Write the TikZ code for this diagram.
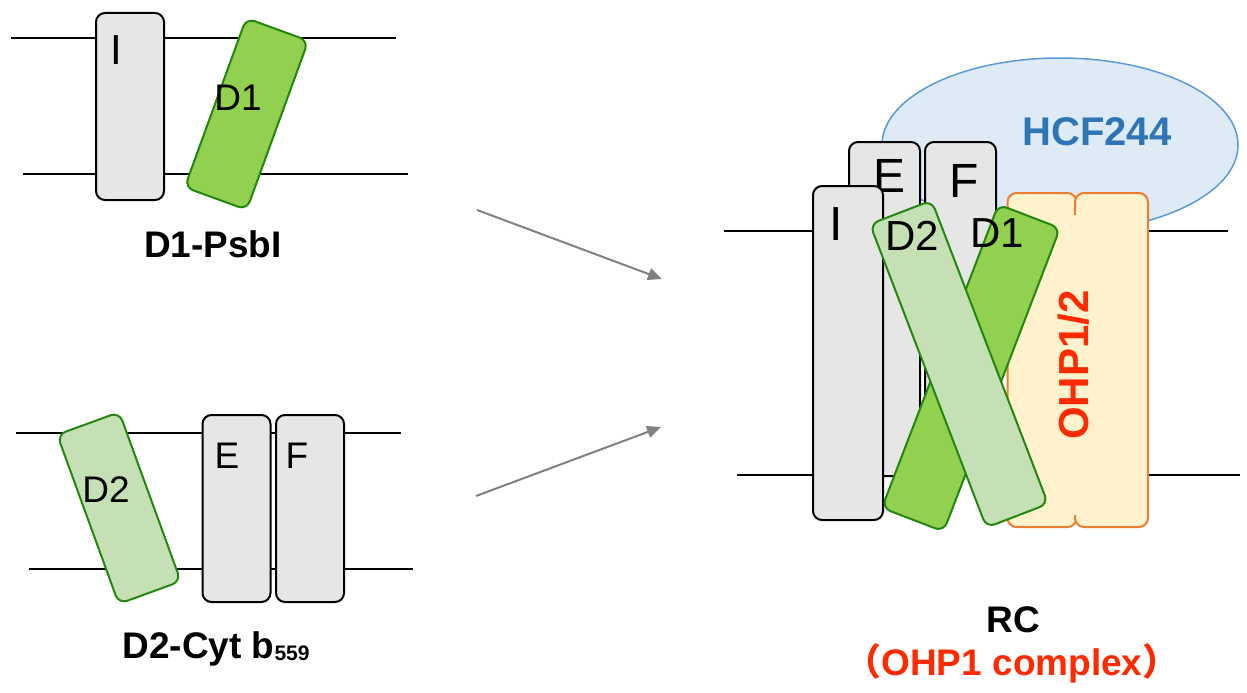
\documentclass[tikz,border=0pt]{standalone}
\usepackage{fontspec}
\setmainfont{Liberation Sans}
\newfontfamily\cjk{Noto Sans CJK SC}
\usetikzlibrary{arrows.meta,shapes.geometric}

\definecolor{boxgray}{HTML}{E6E6E6}
\definecolor{donefill}{HTML}{92D050}
\definecolor{dtwofill}{HTML}{C5E0B4}
\definecolor{dborder}{HTML}{23870F}
\definecolor{ohpfill}{HTML}{FFF2CC}
\definecolor{ohpborder}{HTML}{ED7D31}
\definecolor{hcffill}{HTML}{DEEBF7}
\definecolor{hcfborder}{HTML}{5B9BD5}
\definecolor{hcftext}{HTML}{2E75B6}
\definecolor{redtext}{HTML}{FF2A00}
\definecolor{arrowgray}{HTML}{808080}

\tikzset{
  membrane/.style={line width=1.2pt},
  subunit/.style={draw=black,fill=boxgray,line width=2pt,rounded corners=9pt,
    minimum width=68pt,minimum height=187pt,inner sep=0pt},
  dbox/.style={draw=dborder,line width=2pt,rounded corners=9pt,
    minimum width=66pt,minimum height=180pt,inner sep=0pt},
  ohpbox/.style={draw=ohpborder,fill=ohpfill,line width=2pt,rounded corners=9pt,
    minimum width=69pt,minimum height=334pt,inner sep=0pt},
  letter/.style={font=\fontsize{37}{40}\selectfont,inner sep=0pt,anchor=base},
  bigletter/.style={font=\fontsize{48}{50}\selectfont,inner sep=0pt,anchor=base},
  title/.style={font=\fontsize{37}{40}\selectfont\bfseries,inner sep=0pt,anchor=base},
  step arrow/.style={->,draw=arrowgray,line width=2pt}
}

\begin{document}
\begin{tikzpicture}[x=1pt,y=-1pt,>={Triangle[length=14pt,width=12pt]}]
\useasboundingbox (0,0) rectangle (1247,693);

% membranes
\draw[membrane] (11,38) -- (396,38);
\draw[membrane] (23,174) -- (408,174);
\draw[membrane] (16,433) -- (401,433);
\draw[membrane] (29,569) -- (413,569);
\draw[membrane] (724,231) -- (1228,231);
\draw[membrane] (737,475) -- (1240,475);

% D1-PsbI
\node[subunit] (Ia) at (130,106.5) {};
\node[dbox,fill=donefill,rotate=-20] (Done) at (246.5,114) {};
\node[letter,font=\fontsize{42}{44}\selectfont] (Ialab) at (116,65) {I};
\node[letter] (Donelab) at (238,110) {D1};
\node[title] (psbi) at (213,257) {D1-PsbI};

% D2-Cyt b559
\node[dbox,fill=dtwofill,rotate=20] (Dtwo) at (119,508) {};
\node[subunit] (Ea) at (236.5,508.5) {};
\node[subunit] (Fa) at (310,508.5) {};
\node[letter] (Dtwolab) at (106,502) {D2};
\node[letter] (Ealab) at (227,468) {E};
\node[letter] (Falab) at (297,468) {F};
\node[title] (cytb) at (216,658) {D2-Cyt b\raisebox{-2pt}{\fontsize{21}{22}\selectfont 559}};

% arrows
\coordinate (upstart) at (477,210);
\coordinate (upend) at (662,279);
\coordinate (lowstart) at (476,496);
\coordinate (lowend) at (661,427);
\draw[step arrow] (upstart) -- (upend);
\draw[step arrow] (lowstart) -- (lowend);

% RC (OHP1 complex)
\node[ellipse,draw=hcfborder,fill=hcffill,line width=1.5pt,minimum width=356pt,
  minimum height=174pt,inner sep=0pt] (hcf) at (1060,145) {};
\node[subunit,minimum width=71pt,minimum height=334pt] (Eb) at (884.5,309) {};
\node[bigletter] (Eblab) at (889,192) {E};
\node[subunit,minimum width=71pt,minimum height=334pt] (Fb) at (960.5,309) {};
\node[bigletter] (Fblab) at (964,197) {F};
\node[subunit,minimum width=70pt,minimum height=334pt] (Ib) at (848,353) {};
\node[bigletter] (Iblab) at (836,240) {I};
\node[ohpbox] (ohpl) at (1042,360) {};
\node[ohpbox,minimum width=73pt] (ohpr) at (1111.5,360) {};
\fill[ohpfill] (1071,215) rectangle (1079,515);
\node[dbox,fill=donefill,minimum height=325pt,rotate=-21] (Donec) at (971,368) {};
\node[dbox,fill=dtwofill,minimum height=325pt,rotate=21] (Dtwoc) at (959,364) {};
\node[letter,font=\fontsize{42}{44}\selectfont] (Dtwoclab) at (912,250) {D2};
\node[letter,font=\fontsize{42}{44}\selectfont] (Doneclab) at (997,247) {D1};
\node[title,font=\fontsize{40}{42}\selectfont\bfseries,text=hcftext] (hcflab) at (1097,145) {HCF244};
\node[title,font=\fontsize{42}{44}\selectfont\bfseries,text=redtext,rotate=90] (ohplab) at (1088,365) {OHP1/2};
\node[title] (rc) at (1013,632) {RC};
\node[title,text=redtext] (complex) at (1012,675) {{\cjk\bfseries （}OHP1 complex{\cjk\bfseries ）}};
\end{tikzpicture}
\end{document}
